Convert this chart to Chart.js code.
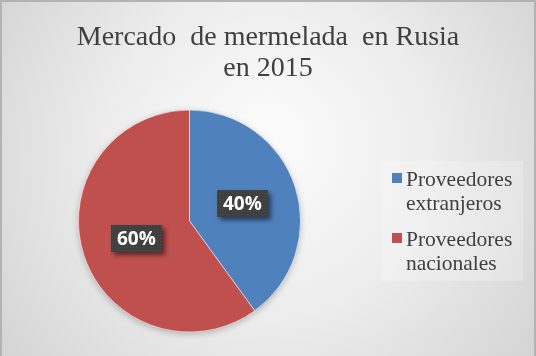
<!DOCTYPE html>
<html>
<head>
<meta charset="utf-8">
<script src="https://cdn.jsdelivr.net/npm/chart.js@4/dist/chart.umd.min.js"></script>
<style>
  html, body { margin: 0; padding: 0; background: #ffffff; }
  #wrap { width: 536px; height: 356px; position: relative; }
  canvas { display: block; }
</style>
</head>
<body>
<div id="wrap"><canvas id="c" width="536" height="356"></canvas></div>
<script>
// Market shares of jam suppliers in Russia, 2015
const titleLines = ['Mercado  de mermelada  en Rusia', 'en 2015'];
const categories = ['Proveedores extranjeros', 'Proveedores nacionales'];
const legendLines = [['Proveedores', 'extranjeros'], ['Proveedores', 'nacionales']];
const shares = [40, 60];
const sliceColors = ['#4f81bd', '#c0504d'];

const SERIF = '"Liberation Serif", "Times New Roman", serif';
const TEXT_COLOR = '#404040';

// Gradient backdrop and frame
const backdrop = {
  id: 'backdrop',
  beforeDraw(chart) {
    const { ctx, width, height } = chart;
    ctx.save();
    const g = ctx.createRadialGradient(268, 140, 10, 268, 170, 360);
    g.addColorStop(0, '#fbfbfb');
    g.addColorStop(0.45, '#ececec');
    g.addColorStop(1, '#cfcfcf');
    ctx.fillStyle = g;
    ctx.fillRect(0, 0, width, height);
    ctx.strokeStyle = '#b3b3b3';
    ctx.lineWidth = 2;
    ctx.strokeRect(1, 1, width - 2, height + 4);
    ctx.restore();
  }
};

// Soft shadow under the pie
const pieShadow = {
  id: 'pieShadow',
  beforeDatasetsDraw(chart) {
    const arc = chart.getDatasetMeta(0).data[0];
    if (!arc) return;
    const { ctx } = chart;
    ctx.save();
    ctx.shadowColor = 'rgba(0,0,0,0.28)';
    ctx.shadowBlur = 7;
    ctx.shadowOffsetY = 2;
    ctx.fillStyle = '#999999';
    ctx.beginPath();
    ctx.arc(arc.x, arc.y, arc.outerRadius - 0.5, 0, Math.PI * 2);
    ctx.fill();
    ctx.restore();
  }
};

// Dark value boxes on each slice
function dotPattern(ctx) {
  const p = document.createElement('canvas');
  p.width = 3; p.height = 3;
  const pc = p.getContext('2d');
  pc.fillStyle = '#3f3f3f';
  pc.fillRect(0, 0, 3, 3);
  pc.fillStyle = '#4d4d4d';
  pc.fillRect(1, 1, 1, 1);
  return ctx.createPattern(p, 'repeat');
}

const valueBoxes = {
  id: 'valueBoxes',
  afterDatasetsDraw(chart) {
    const { ctx } = chart;
    const meta = chart.getDatasetMeta(0);
    const values = chart.data.datasets[0].data;
    const pattern = dotPattern(ctx);
    meta.data.forEach((arc, i) => {
      const c = arc.getCenterPoint();
      const text = values[i] + '%';
      ctx.save();
      ctx.font = 'bold 19px "Open Sans", "DejaVu Sans", sans-serif';
      const w = ctx.measureText(text).width + 12;
      const h = 27;
      const x = Math.round(c.x - w / 2);
      const y = Math.round(c.y - h / 2);
      ctx.shadowColor = 'rgba(0,0,0,0.55)';
      ctx.shadowBlur = 5;
      ctx.shadowOffsetX = 3;
      ctx.shadowOffsetY = 3;
      ctx.fillStyle = pattern;
      ctx.fillRect(x, y, w, h);
      ctx.shadowColor = 'transparent';
      ctx.fillStyle = '#ffffff';
      ctx.textAlign = 'center';
      ctx.textBaseline = 'middle';
      ctx.fillText(text, x + w / 2, y + h / 2 + 1);
      ctx.restore();
    });
  }
};

// Two-line title, centred on the full canvas
const titleText = {
  id: 'titleText',
  afterDraw(chart) {
    const { ctx, width } = chart;
    ctx.save();
    ctx.font = '28px ' + SERIF;
    ctx.fillStyle = TEXT_COLOR;
    ctx.textAlign = 'center';
    ctx.textBaseline = 'alphabetic';
    titleLines.forEach((line, i) => ctx.fillText(line, width / 2, 45 + i * 31));
    ctx.restore();
  }
};

// Legend panel on the right with wrapped labels
const sideLegend = {
  id: 'sideLegend',
  afterDraw(chart) {
    const { ctx } = chart;
    const colors = chart.data.datasets[0].backgroundColor;
    ctx.save();
    ctx.fillStyle = 'rgba(255,255,255,0.22)';
    ctx.fillRect(381, 161, 142, 120);
    ctx.font = '21.5px ' + SERIF;
    ctx.textAlign = 'left';
    ctx.textBaseline = 'alphabetic';
    legendLines.forEach((lines, i) => {
      const top = 186 + i * 60;
      ctx.fillStyle = colors[i];
      ctx.fillRect(392, top - 13, 10, 10);
      ctx.fillStyle = TEXT_COLOR;
      lines.forEach((t, j) => ctx.fillText(t, 406, top + j * 23.5));
    });
    ctx.restore();
  }
};

new Chart(document.getElementById('c'), {
  type: 'pie',
  data: {
    labels: categories,
    datasets: [{
      data: shares,
      backgroundColor: sliceColors,
      borderColor: 'rgba(255,255,255,0.55)',
      borderWidth: 1
    }]
  },
  options: {
    responsive: false,
    animation: false,
    events: [],
    layout: { padding: { left: 78, right: 235, top: 109, bottom: 23 } },
    plugins: {
      legend: { display: false },
      title: { display: false },
      tooltip: { enabled: false }
    }
  },
  plugins: [backdrop, pieShadow, valueBoxes, titleText, sideLegend]
});
</script>
</body>
</html>
